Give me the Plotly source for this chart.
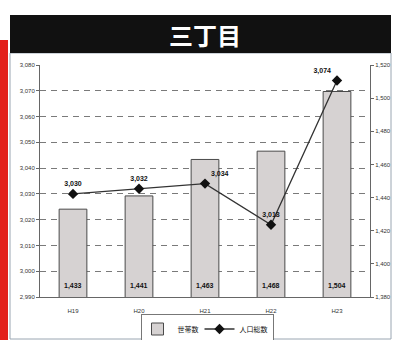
import plotly.graph_objects as go

# Yearly figures for 三丁目
years = ["H19", "H20", "H21", "H22", "H23"]
households = [1433, 1441, 1463, 1468, 1504]      # 世帯数 (right axis, bars)
population = [3030, 3032, 3034, 3018, 3074]      # 人口総数 (left axis, line)

pop_ticks = list(range(2990, 3081, 10))
hh_ticks = list(range(1380, 1521, 20))
hh_floor = hh_ticks[0]

W, H = 395, 340
L, R, T, B = 40, 25, 65, 43
PW, PH = W - L - R, H - T - B


def px(x):
    return (x - L) / PW


def py(y):
    return (H - B - y) / PH


fig = go.Figure()

fig.add_trace(go.Bar(
    x=years, y=households, name="世帯数", yaxis="y", width=0.42,
    marker=dict(color="#d6d2d2", line=dict(color="#4a4a4a", width=1)),
))

fig.add_trace(go.Scatter(
    x=years, y=population, name="人口総数", yaxis="y2",
    mode="lines+markers+text",
    line=dict(color="#333", width=1.3),
    marker=dict(symbol="diamond", size=8, color="#111"),
    text=[f"{v:,}" for v in population],
    textposition=["top center", "top center", "top right", "top center", "top left"],
    textfont=dict(size=7, color="#111", family="Liberation Sans", weight="bold"),
    cliponaxis=False,
))

axis_font = dict(size=6, color="#333", family="Liberation Sans")

# household counts written at the foot of each bar
bar_labels = [
    dict(text=f"{v:,}", x=yr, y=hh_floor, xref="x", yref="y", yanchor="bottom",
         yshift=5, showarrow=False,
         font=dict(size=7, color="#111", family="Liberation Sans", weight="bold"))
    for yr, v in zip(years, households)
]

fig.update_layout(
    width=W, height=H,
    margin=dict(l=L, r=R, t=T, b=B, autoexpand=False),
    paper_bgcolor="white", plot_bgcolor="white",
    showlegend=True,
    legend=dict(orientation="h", x=px(207), y=py(329), xanchor="center", yanchor="middle",
                bordercolor="#777", borderwidth=1, bgcolor="white",
                font=dict(size=7, color="#111", family="Noto Sans CJK JP"),
                itemwidth=30, tracegroupgap=0, indentation=-4),
    bargap=0.5,
    xaxis=dict(type="category", range=[-0.5, 4.5], showgrid=False,
               showline=True, linecolor="#666", linewidth=1, ticks="",
               tickfont=axis_font, ticklabelstandoff=8),
    yaxis=dict(side="right", range=[1380, 1520], tickvals=hh_ticks,
               ticktext=[f"{v:,}" for v in hh_ticks], showgrid=False,
               showline=True, linecolor="#666", linewidth=1,
               ticks="outside", ticklen=3, tickcolor="#666",
               tickfont=axis_font, zeroline=False),
    yaxis2=dict(overlaying="y", side="left", range=[2990, 3080], tickvals=pop_ticks,
                ticktext=[f"{v:,}" for v in pop_ticks],
                showgrid=True, gridcolor="#7a7a7a", griddash="6px,5px", gridwidth=1,
                showline=True, linecolor="#666", linewidth=1,
                ticks="outside", ticklen=3, tickcolor="#666",
                tickfont=axis_font, zeroline=False),
    shapes=[
        # red page edge
        dict(type="rect", xref="paper", yref="paper", x0=px(0), x1=px(8),
             y0=py(340), y1=py(40), fillcolor="#e3201b", line=dict(width=0), layer="below"),
        # panel frame
        dict(type="rect", xref="paper", yref="paper", x0=px(10), x1=px(391),
             y0=py(339), y1=py(53), line=dict(color="#9aa6b2", width=1), layer="below"),
        # title band
        dict(type="rect", xref="paper", yref="paper", x0=px(10), x1=px(391),
             y0=py(53), y1=py(15), fillcolor="#111", line=dict(width=0)),
    ],
    annotations=[
        dict(text="<b>三丁目</b>", xref="paper", yref="paper", x=px(205), y=py(34),
             xanchor="center", yanchor="middle", showarrow=False,
             font=dict(size=24, color="white", family="Noto Sans CJK JP")),
    ] + bar_labels,
)

fig.write_html("out.html")
